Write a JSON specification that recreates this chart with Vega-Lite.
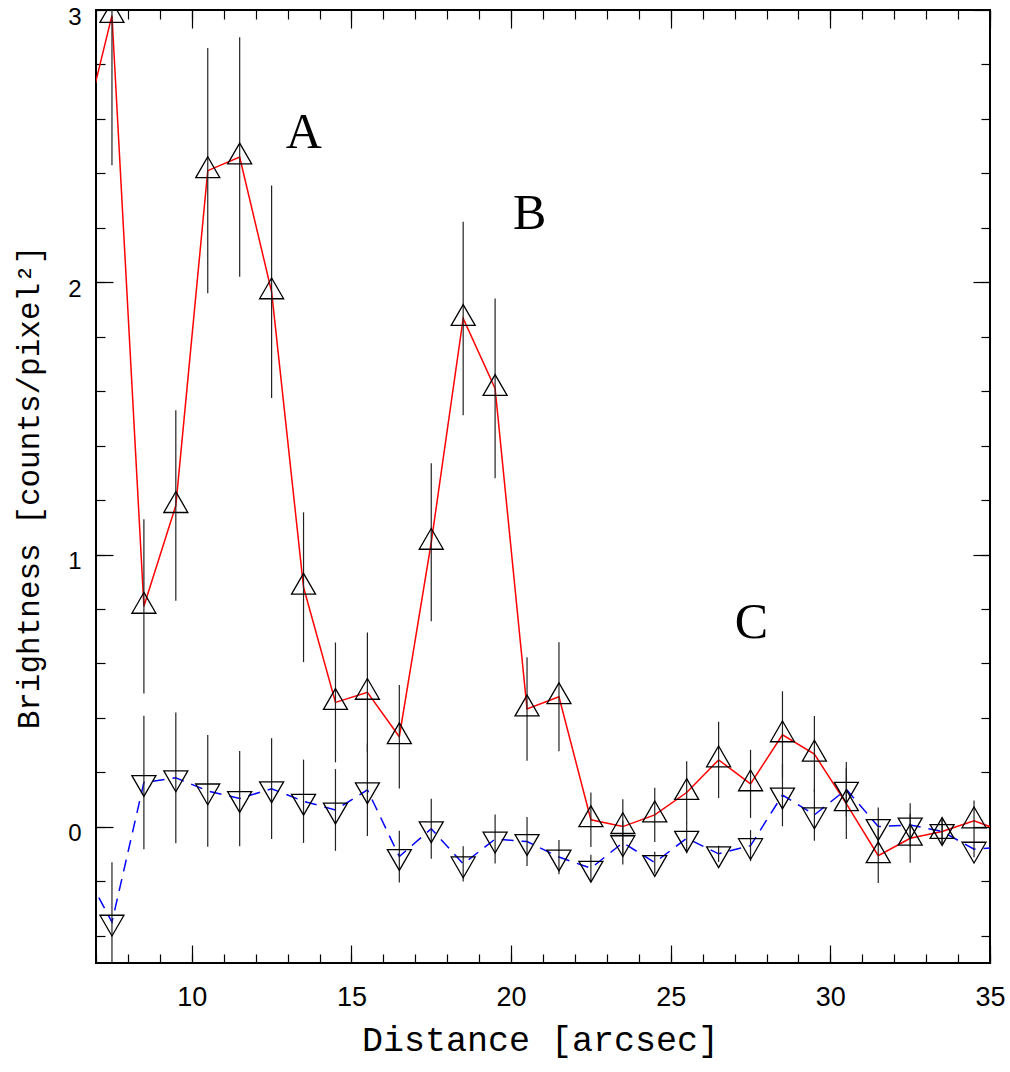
{
  "$schema": "https://vega.github.io/schema/vega-lite/v6.json",
  "width": 894,
  "height": 953,
  "autosize": "none",
  "padding": {"left": 96, "top": 10, "right": 20, "bottom": 109},
  "background": "white",
  "config": {
    "view": {"stroke": "black", "strokeWidth": 2},
    "axis": {"grid": false, "domain": false, "tickColor": "black", "tickWidth": 1.2, "labelColor": "black", "titleColor": "black"}
  },
  "datasets": {
    "profile": [
      {"x": 6.5, "up": 2.5, "upLo": 2.0, "upHi": 3.0, "dn": -0.13, "dnLo": -0.33, "dnHi": 0.07},
      {"x": 7.5, "up": 2.98, "upLo": 2.43, "upHi": 3.53, "dn": -0.35, "dnLo": -0.57, "dnHi": -0.13},
      {"x": 8.5, "up": 0.81, "upLo": 0.49, "upHi": 1.13, "dn": 0.163, "dnLo": -0.082, "dnHi": 0.408},
      {"x": 9.5, "up": 1.18, "upLo": 0.83, "upHi": 1.53, "dn": 0.18, "dnLo": -0.06, "dnHi": 0.42},
      {"x": 10.5, "up": 2.41, "upLo": 1.96, "upHi": 2.86, "dn": 0.132, "dnLo": -0.073, "dnHi": 0.337},
      {"x": 11.5, "up": 2.46, "upLo": 2.02, "upHi": 2.9, "dn": 0.104, "dnLo": -0.071, "dnHi": 0.279},
      {"x": 12.5, "up": 1.965, "upLo": 1.575, "upHi": 2.355, "dn": 0.14, "dnLo": -0.045, "dnHi": 0.325},
      {"x": 13.5, "up": 0.88, "upLo": 0.605, "upHi": 1.155, "dn": 0.094, "dnLo": -0.059, "dnHi": 0.247},
      {"x": 14.5, "up": 0.457, "upLo": 0.237, "upHi": 0.677, "dn": 0.062, "dnLo": -0.088, "dnHi": 0.212},
      {"x": 15.5, "up": 0.494, "upLo": 0.274, "upHi": 0.714, "dn": 0.136, "dnLo": -0.034, "dnHi": 0.306},
      {"x": 16.5, "up": 0.331, "upLo": 0.141, "upHi": 0.521, "dn": -0.109, "dnLo": -0.204, "dnHi": -0.014},
      {"x": 17.5, "up": 1.045, "upLo": 0.755, "upHi": 1.335, "dn": -0.007, "dnLo": -0.117, "dnHi": 0.103},
      {"x": 18.5, "up": 1.867, "upLo": 1.512, "upHi": 2.222, "dn": -0.136, "dnLo": -0.201, "dnHi": -0.071},
      {"x": 19.5, "up": 1.61, "upLo": 1.28, "upHi": 1.94, "dn": -0.045, "dnLo": -0.135, "dnHi": 0.045},
      {"x": 20.5, "up": 0.433, "upLo": 0.243, "upHi": 0.623, "dn": -0.054, "dnLo": -0.144, "dnHi": 0.036},
      {"x": 21.5, "up": 0.478, "upLo": 0.278, "upHi": 0.678, "dn": -0.111, "dnLo": -0.174, "dnHi": -0.048},
      {"x": 22.5, "up": 0.026, "upLo": -0.074, "upHi": 0.126, "dn": -0.152, "dnLo": -0.202, "dnHi": -0.102},
      {"x": 23.5, "up": 0.001, "upLo": -0.099, "upHi": 0.101, "dn": -0.058, "dnLo": -0.138, "dnHi": 0.022},
      {"x": 24.5, "up": 0.044, "upLo": -0.056, "upHi": 0.144, "dn": -0.131, "dnLo": -0.171, "dnHi": -0.091},
      {"x": 25.5, "up": 0.126, "upLo": 0.011, "upHi": 0.241, "dn": -0.042, "dnLo": -0.097, "dnHi": 0.013},
      {"x": 26.5, "up": 0.246, "upLo": 0.106, "upHi": 0.386, "dn": -0.099, "dnLo": -0.129, "dnHi": -0.069},
      {"x": 27.5, "up": 0.158, "upLo": 0.033, "upHi": 0.283, "dn": -0.069, "dnLo": -0.126, "dnHi": -0.012},
      {"x": 28.5, "up": 0.338, "upLo": 0.178, "upHi": 0.498, "dn": 0.117, "dnLo": 0.002, "dnHi": 0.232},
      {"x": 29.5, "up": 0.267, "upLo": 0.127, "upHi": 0.407, "dn": 0.044, "dnLo": -0.051, "dnHi": 0.139},
      {"x": 30.5, "up": 0.085, "upLo": -0.045, "upHi": 0.215, "dn": 0.138, "dnLo": 0.038, "dnHi": 0.238},
      {"x": 31.5, "up": -0.106, "upLo": -0.206, "upHi": -0.006, "dn": 0.001, "dnLo": -0.069, "dnHi": 0.071},
      {"x": 32.5, "up": -0.042, "upLo": -0.132, "upHi": 0.048, "dn": 0.007, "dnLo": -0.073, "dnHi": 0.087},
      {"x": 33.5, "up": -0.017, "upLo": -0.067, "upHi": 0.033, "dn": -0.017, "dnLo": -0.067, "dnHi": 0.033},
      {"x": 34.5, "up": 0.022, "upLo": -0.053, "upHi": 0.097, "dn": -0.082, "dnLo": -0.112, "dnHi": -0.052},
      {"x": 35.5, "up": -0.02, "upLo": -0.09, "upHi": 0.05, "dn": -0.074, "dnLo": -0.104, "dnHi": -0.044}
    ],
    "labels": [
      {"label": "A", "x": 13.51, "y": 2.495},
      {"label": "B", "x": 20.58, "y": 2.194},
      {"label": "C", "x": 27.53, "y": 0.694}
    ]
  },
  "resolve": {"axis": {"x": "independent", "y": "independent"}},
  "layer": [
    {
      "data": {"name": "profile"},
      "mark": {"type": "line", "color": "#ff0000", "strokeWidth": 1.5, "clip": true},
      "encoding": {
        "x": {"field": "x", "type": "quantitative",
          "scale": {"domain": [7, 35], "nice": false, "zero": false},
          "axis": {"orient": "bottom", "ticks": false, "values": [10, 15, 20, 25, 30, 35],
            "labelFont": "Liberation Sans", "labelFontSize": 27, "labelPadding": 42, "labelBaseline": "alphabetic", "labelFlush": false,
            "title": "Distance [arcsec]", "titleFont": "Liberation Mono", "titleFontSize": 35, "titleFontWeight": "normal",
            "titleX": 444, "titleY": 87, "titleAlign": "center", "titleBaseline": "alphabetic"}},
        "y": {"field": "up", "type": "quantitative",
          "scale": {"domain": [-0.5, 3], "nice": false, "zero": false},
          "axis": {"orient": "left", "ticks": false, "values": [0, 1, 2, 3],
            "labelFont": "Liberation Sans", "labelFontSize": 24, "labelPadding": 15, "labelBaseline": "middle", "labelOffset": 7,
            "title": "Brightness [counts/pixel²]", "titleFont": "Liberation Mono", "titleFontSize": 31, "titleFontWeight": "normal",
            "titleAngle": 270, "titleX": -58, "titleY": 477, "titleAlign": "center", "titleBaseline": "alphabetic"}}
      }
    },
    {
      "data": {"name": "profile"},
      "mark": {"type": "line", "color": "#0000ff", "strokeWidth": 1.5, "strokeDash": [12, 8], "clip": true},
      "encoding": {
        "x": {"field": "x", "type": "quantitative",
          "axis": {"orient": "bottom", "values": [10, 15, 20, 25, 30, 35], "tickSize": -18, "labels": false, "title": null}},
        "y": {"field": "dn", "type": "quantitative",
          "axis": {"orient": "left", "values": [0, 1, 2, 3], "tickSize": -17, "labels": false, "title": null}}
      }
    },
    {
      "data": {"name": "profile"},
      "mark": {"type": "rule", "color": "#222222", "strokeWidth": 1.2, "clip": true},
      "encoding": {
        "x": {"field": "x", "type": "quantitative",
          "axis": {"orient": "bottom", "values": [7, 8, 9, 10, 11, 12, 13, 14, 15, 16, 17, 18, 19, 20, 21, 22, 23, 24, 25, 26, 27, 28, 29, 30, 31, 32, 33, 34, 35], "tickSize": -9, "labels": false, "title": null}},
        "y": {"field": "upLo", "type": "quantitative",
          "axis": {"orient": "left", "values": [-0.4, -0.2, 0, 0.2, 0.4, 0.6, 0.8, 1, 1.2, 1.4, 1.6, 1.8, 2, 2.2, 2.4, 2.6, 2.8], "tickSize": -9, "labels": false, "title": null}},
        "y2": {"field": "upHi"}
      }
    },
    {
      "data": {"name": "profile"},
      "mark": {"type": "rule", "color": "#222222", "strokeWidth": 1.2, "clip": true},
      "encoding": {
        "x": {"field": "x", "type": "quantitative",
          "axis": {"orient": "top", "values": [10, 15, 20, 25, 30, 35], "tickSize": -18, "labels": false, "title": null}},
        "y": {"field": "dnLo", "type": "quantitative",
          "axis": {"orient": "right", "values": [0, 1, 2, 3], "tickSize": -17, "labels": false, "title": null}},
        "y2": {"field": "dnHi"}
      }
    },
    {
      "data": {"name": "profile"},
      "mark": {"type": "point", "shape": "M0,-1.155L1,0.577L-1,0.577Z", "size": 576, "filled": false, "stroke": "black", "strokeWidth": 1.3, "opacity": 1, "clip": true},
      "encoding": {
        "x": {"field": "x", "type": "quantitative",
          "axis": {"orient": "top", "values": [7, 8, 9, 10, 11, 12, 13, 14, 15, 16, 17, 18, 19, 20, 21, 22, 23, 24, 25, 26, 27, 28, 29, 30, 31, 32, 33, 34, 35], "tickSize": -9, "labels": false, "title": null}},
        "y": {"field": "up", "type": "quantitative",
          "axis": {"orient": "right", "values": [-0.4, -0.2, 0, 0.2, 0.4, 0.6, 0.8, 1, 1.2, 1.4, 1.6, 1.8, 2, 2.2, 2.4, 2.6, 2.8], "tickSize": -9, "labels": false, "title": null}}
      }
    },
    {
      "data": {"name": "profile"},
      "mark": {"type": "point", "shape": "M0,1.155L1,-0.577L-1,-0.577Z", "size": 576, "filled": false, "stroke": "black", "strokeWidth": 1.3, "opacity": 1, "clip": true},
      "encoding": {
        "x": {"field": "x", "type": "quantitative", "axis": null},
        "y": {"field": "dn", "type": "quantitative", "axis": null}
      }
    },
    {
      "data": {"name": "labels"},
      "mark": {"type": "text", "font": "Liberation Serif", "fontSize": 50, "align": "center", "baseline": "alphabetic", "color": "black"},
      "encoding": {
        "x": {"field": "x", "type": "quantitative", "axis": null},
        "y": {"field": "y", "type": "quantitative", "axis": null},
        "text": {"field": "label"}
      }
    }
  ]
}
